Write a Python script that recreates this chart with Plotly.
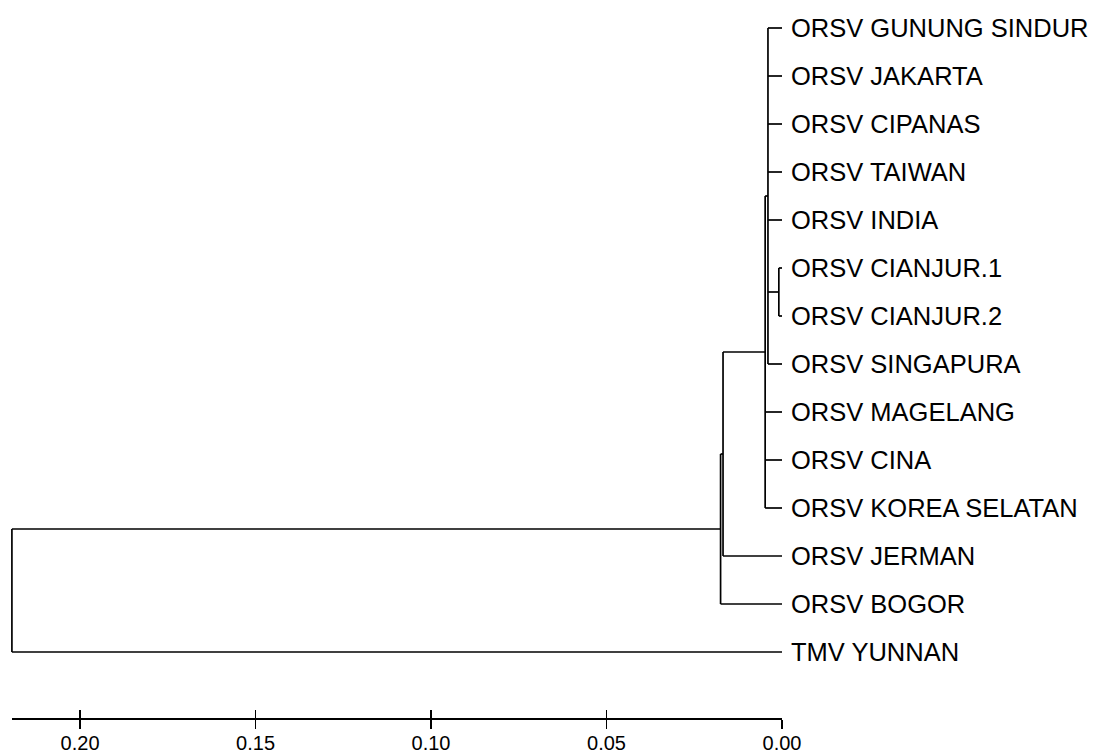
import plotly.graph_objects as go

# ---- data ----
leaf_labels = [
    "ORSV GUNUNG SINDUR", "ORSV JAKARTA", "ORSV CIPANAS", "ORSV TAIWAN",
    "ORSV INDIA", "ORSV CIANJUR.1", "ORSV CIANJUR.2", "ORSV SINGAPURA",
    "ORSV MAGELANG", "ORSV CINA", "ORSV KOREA SELATAN", "ORSV JERMAN",
    "ORSV BOGOR", "TMV YUNNAN",
]
# internal nodes: name -> (children, height)
node_names = ["cianjur", "D", "C", "A", "B", "root"]
node_children = [
    ["ORSV CIANJUR.1", "ORSV CIANJUR.2"],
    ["ORSV GUNUNG SINDUR", "ORSV JAKARTA", "ORSV CIPANAS", "ORSV TAIWAN",
     "ORSV INDIA", "cianjur", "ORSV SINGAPURA"],
    ["D", "ORSV MAGELANG", "ORSV CINA", "ORSV KOREA SELATAN"],
    ["C", "ORSV JERMAN"],
    ["A", "ORSV BOGOR"],
    ["B", "TMV YUNNAN"],
]
node_heights = [0.0009, 0.0040, 0.0048, 0.0168, 0.0175, 0.2194]

tick_vals = [0.20, 0.15, 0.10, 0.05, 0.00]
tick_text = ["0.20", "0.15", "0.10", "0.05", "0.00"]

# ---- build tree geometry ----
height = {lab: 0.0 for lab in leaf_labels}
ypos = {lab: i for i, lab in enumerate(leaf_labels)}
for name, ch, h in zip(node_names, node_children, node_heights):
    height[name] = h
    ypos[name] = (ypos[ch[0]] + ypos[ch[-1]]) / 2.0

xs, ys = [], []
for name, ch, h in zip(node_names, node_children, node_heights):
    xs += [h, h, None]
    ys += [ypos[ch[0]], ypos[ch[-1]], None]
    for c in ch:
        xs += [h, height[c], None]
        ys += [ypos[c], ypos[c], None]

W, H = 1094, 753
PXU = 3510.0                 # pixels per unit distance
X0 = 782                     # pixel of distance 0
Y0, DY = 28, 48              # pixel of first leaf, leaf spacing
AXIS_Y = 719
XL = 12

fig = go.Figure()
fig.add_trace(go.Scatter(x=xs, y=ys, mode="lines",
                         line=dict(color="black", width=1.7),
                         hoverinfo="skip", showlegend=False))
# invisible traces to anchor scale-bar axes
for ax in ["x2", "x3"]:
    fig.add_trace(go.Scatter(x=tick_vals, y=[None] * len(tick_vals), xaxis=ax, yaxis="y",
                             mode="markers", hoverinfo="skip", showlegend=False))

for lab in leaf_labels:
    fig.add_annotation(x=0, y=ypos[lab], text=lab, showarrow=False,
                       xanchor="left", yanchor="middle", xshift=7,
                       font=dict(family="Liberation Sans, Arial", size=25.5, color="black"))

dom = [XL / W, X0 / W]
axis_common = dict(domain=dom, range=[node_heights[-1], 0], anchor="free",
                   position=1 - AXIS_Y / H, showgrid=False, zeroline=False,
                   tickvals=tick_vals, ticktext=tick_text, ticklen=9,
                   tickwidth=1.5, tickcolor="black", automargin=False)

fig.update_layout(
    width=W, height=H,
    margin=dict(l=0, r=0, t=0, b=0, autoexpand=False),
    paper_bgcolor="white", plot_bgcolor="rgba(0,0,0,0)",
    xaxis=dict(domain=[0, 1], range=[X0 / PXU, (X0 - W) / PXU], visible=False,
               automargin=False),
    yaxis=dict(domain=[0, 1], range=[(H - Y0) / DY, -Y0 / DY], visible=False,
               automargin=False),
    xaxis2=dict(**axis_common, ticks="outside", showline=True, linewidth=2,
                linecolor="black", showticklabels=True, ticklabelstandoff=-3,
                tickfont=dict(family="Liberation Sans, Arial", size=20, color="black")),
    xaxis3=dict(**axis_common, ticks="inside", showline=False, showticklabels=False),
)

fig.write_html("out.html",
               config={"displayModeBar": False, "staticPlot": True},
               post_script="document.body.style.margin='0';"
                           "document.body.style.overflow='hidden';")
